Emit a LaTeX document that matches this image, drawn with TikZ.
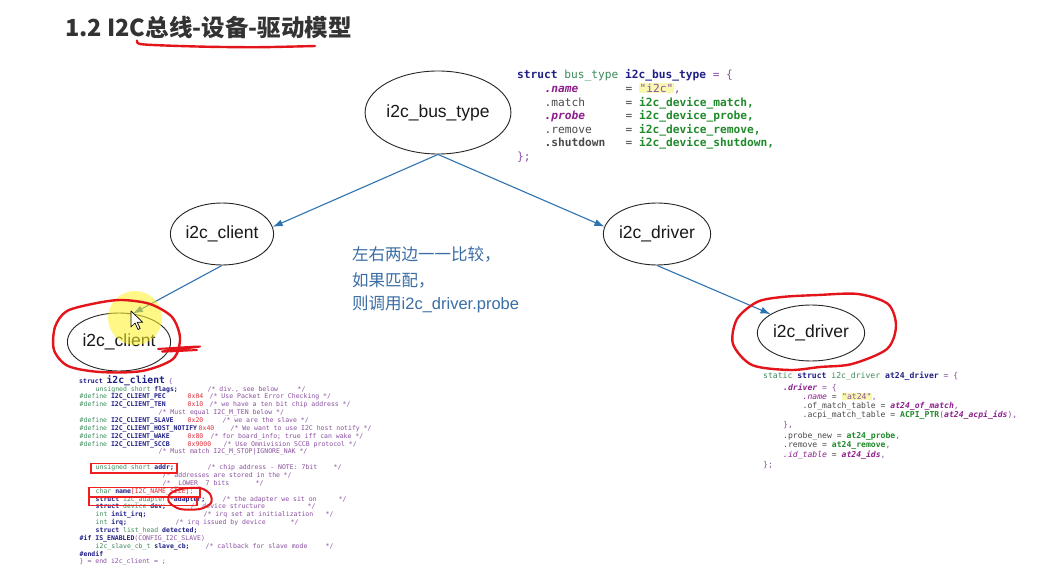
\documentclass[tikz,border=0pt]{standalone}
\usepackage{fontspec}
\setmainfont{Liberation Sans}
\newfontfamily\cjk{Noto Sans CJK SC}
\newfontfamily\cmono{DejaVu Sans Mono}
\usetikzlibrary{shapes.geometric,arrows.meta}
\definecolor{ckw}{HTML}{1F1F86}
\definecolor{cty}{HTML}{3C8C5A}
\definecolor{cfn}{HTML}{1F8A2A}
\definecolor{cmg}{HTML}{8E1E8E}
\definecolor{cpu}{HTML}{8A4FA0}
\definecolor{cgy}{HTML}{4A4A4A}
\definecolor{cnm}{HTML}{E0303A}
\definecolor{chl}{HTML}{F8F8B0}
\definecolor{arrc}{HTML}{2F73B0}
\definecolor{midc}{HTML}{3B6EA5}
\definecolor{annc}{HTML}{E4141B}
\definecolor{boxc}{HTML}{F02020}
\definecolor{titc}{HTML}{333333}
\newcommand\xat[2]{\rlap{\hspace*{#1pt}#2}}
\newcommand\xK[1]{\textcolor{ckw}{\bfseries #1}}
\newcommand\xT[1]{\textcolor{cty}{#1}}
\newcommand\xF[1]{\textcolor{cfn}{\bfseries #1}}
\newcommand\xM[1]{\textcolor{cmg}{\bfseries\itshape #1}}
\newcommand\xMi[1]{\textcolor{cmg}{\itshape #1}}
\newcommand\xC[1]{\textcolor{cpu}{#1}}
\newcommand\xG[1]{\textcolor{cgy}{#1}}
\newcommand\xN[1]{\textcolor{cnm}{#1}}
\newcommand\xHL[1]{{\setlength\fboxsep{0.5pt}\colorbox{chl}{#1}}}
\newcommand\cl[5]{\node[#1] (#2) at (#3,#4) {#5};}
\tikzset{
  ell/.style={ellipse, draw=black!85, line width=0.9pt, inner sep=0pt, text=black!90,
    font=\fontsize{17.5}{20}\selectfont},
  arr/.style={draw=arrc, line width=1.1pt, -{Latex[length=10pt,width=7pt]}},
  codebase/.style={inner sep=0pt, anchor=base west, text=cgy},
  busc/.style={codebase, font=\cmono\fontsize{11.2}{13}\selectfont},
  clic/.style={codebase, font=\cmono\fontsize{6.5}{8}\selectfont},
  drvc/.style={codebase, font=\cmono\fontsize{8.1}{10}\selectfont},
  mid/.style={inner sep=0pt, anchor=base west, text=midc, font=\fontsize{16.5}{20}\selectfont},
  ann/.style={draw=annc, line width=2.4pt, line cap=round, line join=round},
  redbox/.style={draw=boxc, line width=1.2pt}
}
\begin{document}
\catcode`\_=12
\begin{tikzpicture}[x=1pt,y=-1pt]
\fill[white] (0,0) rectangle (1038,569);
\useasboundingbox (0,0) rectangle (1038,569);

% title
\node[anchor=west, inner sep=0pt, text=titc, font=\cjk\bfseries\fontsize{23.5}{27}\selectfont] (title) at (65,28) {1.2 I2C总线-设备-驱动模型};

% ellipses
\node[ell, minimum width=133pt, minimum height=83pt] (bus) at (438,112.5) {i2c_bus_type};
\node[ell, minimum width=96pt, minimum height=62pt] (c1) at (222,234) {i2c_client};
\node[ell, minimum width=98pt, minimum height=62pt] (d1) at (657,234) {i2c_driver};
\node[ell, minimum width=96pt, minimum height=58pt] (c2) at (119,342) {i2c_client};
\node[ell, minimum width=102pt, minimum height=56pt] (d2) at (811,333) {i2c_driver};

% connectors
\draw[arr] (bus.south) -- (c1.8);
\draw[arr] (bus.south) -- (d1.172);
\draw[arr] (c1.south) -- (c2.64);
\draw[arr] (d1.south) -- (d2.155);

% middle text
\node[mid] (m1) at (352,261) {\cjk 左右两边一一比较，};
\node[mid] (m2) at (352,286) {\cjk 如果匹配，};
\node[mid] (m3) at (352,309) {{\cjk 则调用}i2c_driver.probe};

% bus_type code
\cl{busc}{bc1}{517}{78.5}{\xK{struct} \xT{bus_type} \xK{i2c_bus_type} \xC{= \{}}
\cl{busc}{bc2}{517}{92.5}{\xat{27}{\xM{.name}}\xat{108}{\xG{= }\xHL{\xC{"i2c"}}\xC{,}}}
\cl{busc}{bc3}{517}{106.5}{\xat{27}{\xG{.match}}\xat{108}{\xG{= }\xF{i2c_device_match,}}}
\cl{busc}{bc4}{517}{119.5}{\xat{27}{\xM{.probe}}\xat{108}{\xG{= }\xF{i2c_device_probe,}}}
\cl{busc}{bc5}{517}{133.5}{\xat{27}{\xG{.remove}}\xat{108}{\xG{= }\xF{i2c_device_remove,}}}
\cl{busc}{bc6}{517}{146.5}{\xat{27}{\textcolor{cgy}{\bfseries .shutdown}}\xat{108}{\xG{= }\xF{i2c_device_shutdown,}}}
\cl{busc}{bc7}{517}{160.5}{\xC{\};}}

% i2c_client code
\cl{clic}{cc0}{79}{383}{\xK{struct} {\fontsize{9.7}{10}\selectfont\xK{i2c_client}} \xC{\{}}
\cl{clic}{cc1}{79}{391.0}{\xat{16}{\xT{unsigned short} \xK{flags;}}\xat{128}{\xC{/* div., see below}}\xat{218}{\xC{*/}}}
\cl{clic}{cc2}{79}{398.9}{\xat{0}{\xT{\#define} \xK{I2C_CLIENT_PEC}}\xat{108}{\xN{0x04}}\xat{130}{\xC{/* Use Packet Error Checking */}}}
\cl{clic}{cc3}{79}{406.7}{\xat{0}{\xT{\#define} \xK{I2C_CLIENT_TEN}}\xat{108}{\xN{0x10}}\xat{130}{\xC{/* we have a ten bit chip address */}}}
\cl{clic}{cc4}{79}{414.6}{\xat{79}{\xC{/* Must equal I2C_M_TEN below */}}}
\cl{clic}{cc5}{79}{422.4}{\xat{0}{\xT{\#define} \xK{I2C_CLIENT_SLAVE}}\xat{108}{\xN{0x20}}\xat{143}{\xC{/* we are the slave */}}}
\cl{clic}{cc6}{79}{430.3}{\xat{0}{\xT{\#define} \xK{I2C_CLIENT_HOST_NOTIFY}}\xat{119}{\xN{0x40}}\xat{151}{\xC{/* We want to use I2C host notify */}}}
\cl{clic}{cc7}{79}{438.2}{\xat{0}{\xT{\#define} \xK{I2C_CLIENT_WAKE}}\xat{108}{\xN{0x80}}\xat{131}{\xC{/* for board_info; true iff can wake */}}}
\cl{clic}{cc8}{79}{446.0}{\xat{0}{\xT{\#define} \xK{I2C_CLIENT_SCCB}}\xat{108}{\xN{0x9000}}\xat{144}{\xC{/* Use Omnivision SCCB protocol */}}}
\cl{clic}{cc9}{79}{453.9}{\xat{79}{\xC{/* Must match I2C_M_STOP|IGNORE_NAK */}}}
\cl{clic}{cc11}{79}{469.6}{\xat{16}{\xT{unsigned short} \xK{addr;}}\xat{128}{\xC{/* chip address - NOTE: 7bit}}\xat{254}{\xC{*/}}}
\cl{clic}{cc12}{79}{477.5}{\xat{83}{\xC{/* addresses are stored in the}}\xat{204}{\xC{*/}}}
\cl{clic}{cc13}{79}{485.3}{\xat{83}{\xC{/* _LOWER_ 7 bits}}\xat{176}{\xC{*/}}}
\cl{clic}{cc14}{79}{493.2}{\xat{16}{\xT{char} \xK{name}\xN{[I2C_NAME_SIZE]}\xC{;}}}
\cl{clic}{cc15}{79}{501.0}{\xat{16}{\xK{struct} \xT{i2c_adapter} \xK{*adapter;}}\xat{143}{\xC{/* the adapter we sit on}}\xat{259}{\xC{*/}}}
\cl{clic}{cc16}{79}{508.9}{\xat{16}{\xK{struct} \xT{device} \xK{dev;}}\xat{111}{\xC{/* device structure}}\xat{228}{\xC{*/}}}
\cl{clic}{cc17}{79}{516.8}{\xat{16}{\xT{int} \xK{init_irq;}}\xat{124}{\xC{/* irq set at initialization}}\xat{246}{\xC{*/}}}
\cl{clic}{cc18}{79}{524.6}{\xat{16}{\xT{int} \xK{irq;}}\xat{96}{\xC{/* irq issued by device}}\xat{211}{\xC{*/}}}
\cl{clic}{cc19}{79}{532.5}{\xat{16}{\xK{struct} \xT{list_head} \xK{detected;}}}
\cl{clic}{cc20}{79}{540.3}{\xat{0}{\xK{\#if} \xK{IS_ENABLED}\xC{(CONFIG_I2C_SLAVE)}}}
\cl{clic}{cc21}{79}{548.2}{\xat{16}{\xT{i2c_slave_cb_t} \xK{slave_cb;}}\xat{126}{\xC{/* callback for slave mode}}\xat{246}{\xC{*/}}}
\cl{clic}{cc22}{79}{556.1}{\xat{0}{\xK{\#endif}}}
\cl{clic}{cc23}{79}{563.9}{\xat{0}{\xC{\} = end i2c_client = ;}}}

% red boxes in client code
\draw[redbox] (91,463.5) rectangle (177,473);
\draw[redbox] (89,487.5) rectangle (200,497);
\draw[redbox] (89,497) rectangle (197,505.5);

% i2c_driver code
\cl{drvc}{dc1}{763}{378.5}{\xT{static} \xK{struct} \xT{i2c_driver} \xK{at24_driver} \xC{= \{}}
\cl{drvc}{dc2}{763}{390.5}{\xat{19.5}{\xM{.driver} \xC{= \{}}}
\cl{drvc}{dc3}{763}{399.5}{\xat{39}{\xMi{.name} \xG{= }\xHL{\xC{"at24"}}\xC{,}}}
\cl{drvc}{dc4}{763}{408.5}{\xat{39}{\xG{.of_match_table = }\xM{at24_of_match}\xC{,}}}
\cl{drvc}{dc5}{763}{417.5}{\xat{39}{\xG{.acpi_match_table = }\xF{ACPI_PTR}\xC{(}\xM{at24_acpi_ids}\xC{),}}}
\cl{drvc}{dc6}{763}{427.5}{\xat{19.5}{\xC{\},}}}
\cl{drvc}{dc7}{763}{438.5}{\xat{19.5}{\xG{.probe_new = }\xF{at24_probe}\xC{,}}}
\cl{drvc}{dc8}{763}{447.5}{\xat{19.5}{\xG{.remove = }\xF{at24_remove}\xC{,}}}
\cl{drvc}{dc9}{763}{457.5}{\xat{19.5}{\xMi{.id_table} \xG{= }\xM{at24_ids}\xC{,}}}
\cl{drvc}{dc10}{763}{467.5}{\xC{\};}}

% cursor highlight
\fill[yellow!85!white, opacity=0.55] (135,318) circle (27pt);

% red hand annotations
\draw[ann] plot[smooth] coordinates {(137,40.5) (140,44) (165,45.5) (210,46.8) (260,47.2) (315,46)};
\draw[ann] plot[smooth cycle] coordinates {(97,303) (122,300) (150,304) (172,317) (180,338) (173,359) (142,371) (100,372) (68,366) (54,350) (55,327) (67,311)};
\draw[ann, line width=2pt] plot[smooth] coordinates {(158,349) (200,346.5) (162,351.5) (197,350)};
\draw[ann] plot[smooth cycle] coordinates {(782,297) (818,295) (858,294) (888,304) (896,326) (887,349) (852,364) (820,367) (790,370) (752,365) (733,344) (737,319) (757,302)};
\draw[ann, line width=2pt] plot[smooth cycle] coordinates {(181,489) (200,488) (210,494) (211,503) (200,509) (180,509) (169,502) (170,494)};

% mouse cursor
\draw[fill=white, draw=black, line width=0.7pt, line join=round] (131,311) -- ++(0,16) -- ++(4,-4) -- ++(3,6.5) -- ++(2.2,-1) -- ++(-3,-6.3) -- ++(5.5,0) -- cycle;
\end{tikzpicture}
\end{document}
